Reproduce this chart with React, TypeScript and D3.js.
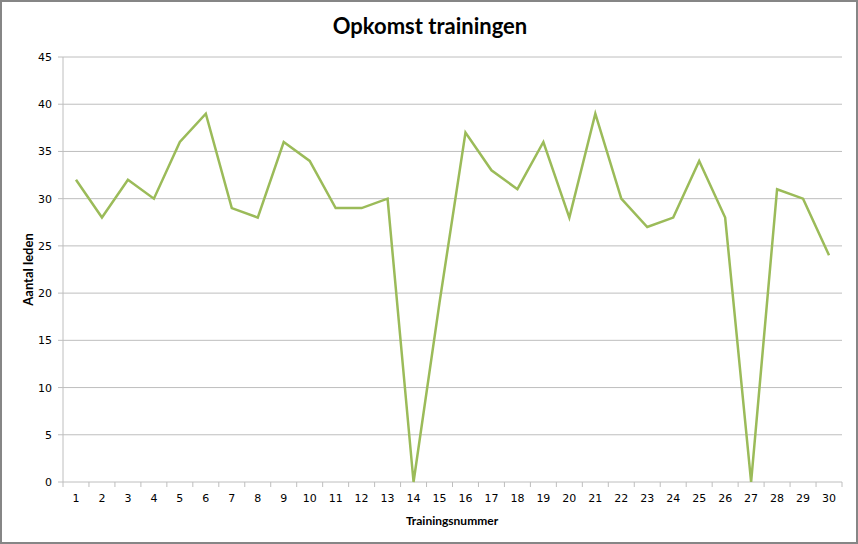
import React from "react";
import * as d3 from "d3";

const trainings: number[] = Array.from({ length: 30 }, (_, i) => i + 1);
const attendance: number[] = [32, 28, 32, 30, 36, 39, 29, 28, 36, 34, 29, 29, 30, 0, 19, 37, 33, 31, 36, 28, 39, 30, 27, 28, 34, 28, 0, 31, 30, 24];
const yTicks: number[] = [0, 5, 10, 15, 20, 25, 30, 35, 40, 45];
const title = "Opkomst trainingen";
const xTitle = "Trainingsnummer";
const yTitle = "Aantal leden";

const W = 858, H = 544;
const left = 63, right = 842, top = 57, bottom = 482;

export default function App() {
  const x = d3.scaleBand<number>().domain(trainings).range([left, right]);
  const y = d3.scaleLinear().domain([0, 45]).range([bottom, top]);
  const line = d3.line<number>()
    .x((_, i) => (x(trainings[i]) as number) + x.bandwidth() / 2)
    .y((d) => y(d));
  const tickFont = "'DejaVu Sans', Verdana, sans-serif";
  const boldFont = "Lato, 'Open Sans', sans-serif";
  const boundaries = trainings.map((t) => x(t) as number).concat([right]);
  return (
    <svg width={W} height={H} style={{ position: "absolute", left: 0, top: 0 }}>
      <rect x={1} y={1} width={W - 2} height={H - 2} fill="#fff" stroke="#868686" strokeWidth={2} />
      <text x={430} y={34} textAnchor="middle" fontFamily={boldFont} fontWeight="bold" fontSize={22} fill="#000">{title}</text>
      {yTicks.map((t) => (
        <g key={t}>
          {t > 0 && <line x1={left} x2={right} y1={y(t)} y2={y(t)} stroke="#BEBEBE" strokeWidth={1} />}
          <line x1={left - 5} x2={left} y1={y(t)} y2={y(t)} stroke="#BEBEBE" strokeWidth={1} />
          <text x={left - 11} y={y(t) + 4} textAnchor="end" fontFamily={tickFont} fontSize={11} fill="#000">{t}</text>
        </g>
      ))}
      <line x1={left} x2={left} y1={top} y2={bottom} stroke="#BEBEBE" strokeWidth={1} />
      <line x1={left} x2={right} y1={bottom} y2={bottom} stroke="#BEBEBE" strokeWidth={1} />
      {boundaries.map((b, i) => (
        <line key={i} x1={b} x2={b} y1={bottom} y2={bottom + 5} stroke="#BEBEBE" strokeWidth={1} />
      ))}
      {trainings.map((t) => (
        <text key={t} x={(x(t) as number) + x.bandwidth() / 2} y={502} textAnchor="middle" fontFamily={tickFont} fontSize={11} fill="#000">{t}</text>
      ))}
      <path d={line(attendance) || ""} fill="none" stroke="#9BBB59" strokeWidth={2.5} strokeLinejoin="miter" />
      <text x={452} y={525} textAnchor="middle" fontFamily={boldFont} fontWeight="bold" fontSize={12} fill="#000">{xTitle}</text>
      <text transform={`translate(33,${(top + bottom) / 2}) rotate(-90)`} textAnchor="middle" fontFamily={boldFont} fontWeight="bold" fontSize={13} fill="#000">{yTitle}</text>
    </svg>
  );
}
